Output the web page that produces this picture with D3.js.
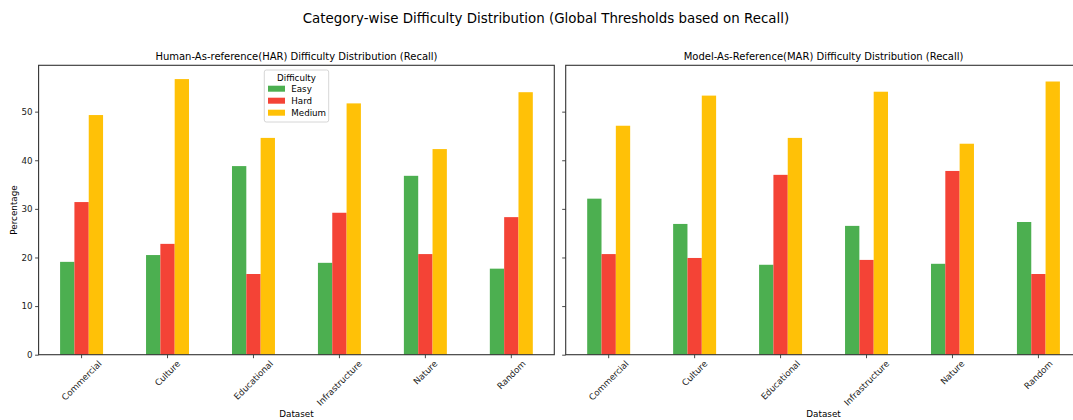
<!DOCTYPE html>
<html>
<head>
<meta charset="utf-8">
<script src="https://cdn.jsdelivr.net/npm/d3@7"></script>
<style>
body{margin:0;background:#fff;}
svg{display:block;font-family:"DejaVu Sans",sans-serif;}
</style>
</head>
<body>
<svg id="chart" width="1073" height="420"></svg>
<script>
const categories = ["Commercial","Culture","Educational","Infrastructure","Nature","Random"];
const difficulties = ["Easy","Hard","Medium"];
const colors = ["#4CAF50","#F44336","#FFC107"];
const yTicks = [0,10,20,30,40,50];
const harEasy   = [19.1, 20.5, 38.8, 18.9, 36.8, 17.7];
const harHard   = [31.4, 22.8, 16.6, 29.2, 20.7, 28.3];
const harMedium = [49.3, 56.7, 44.6, 51.7, 42.3, 54.0];
const marEasy   = [32.1, 26.9, 18.5, 26.5, 18.7, 27.3];
const marHard   = [20.7, 19.9, 37.0, 19.5, 37.8, 16.6];
const marMedium = [47.1, 53.3, 44.6, 54.1, 43.4, 56.2];
const mainTitle = "Category-wise Difficulty Distribution (Global Thresholds based on Recall)";
const panels = [
  {title:"Human-As-reference(HAR) Difficulty Distribution (Recall)", series:[harEasy,harHard,harMedium], left:38.6, labels:true, legend:true},
  {title:"Model-As-Reference(MAR) Difficulty Distribution (Recall)", series:[marEasy,marHard,marMedium], left:565.7, labels:false, legend:false}
];

const svg = d3.select("#chart");
const plotTop = 65.3, plotBottom = 354.7, pw = 515.7;
const allVals = panels.flatMap(p=>p.series.flat());
const yMax = d3.max(allVals)*1.05;
const y = d3.scaleLinear().domain([0,yMax]).range([plotBottom, plotTop]);
const axisColor = "#333";
const tickFont = 8.7;

svg.append("text").attr("x",546).attr("y",23).attr("text-anchor","middle")
  .attr("font-size",13.4).attr("fill","#000").text(mainTitle);

panels.forEach(p=>{
  const g = svg.append("g");
  const x = d3.scaleLinear().domain([-0.5, categories.length-0.5]).range([p.left, p.left+pw]);
  const bw = 0.5/3;
  p.series.forEach((vals,j)=>{
    g.selectAll(null).data(vals).enter().append("rect")
      .attr("x",(d,i)=>x(i - 0.25 + j*bw))
      .attr("width", x(bw)-x(0))
      .attr("y", d=>y(d))
      .attr("height", d=>y(0)-y(d))
      .attr("fill", colors[j]);
  });
  g.append("rect").attr("x",p.left).attr("y",plotTop).attr("width",pw).attr("height",plotBottom-plotTop)
    .attr("fill","none").attr("stroke",axisColor).attr("stroke-width",1.1);
  const ya = d3.axisLeft(y).tickValues(yTicks).tickSize(3.5).tickPadding(2.5)
    .tickFormat(p.labels ? d3.format("d") : ()=> "");
  const yg = g.append("g").attr("transform",`translate(${p.left},0)`).call(ya);
  yg.select(".domain").remove();
  yg.selectAll("line").attr("stroke",axisColor).attr("stroke-width",0.9);
  yg.selectAll("text").attr("font-size",tickFont).attr("fill","#222").attr("font-family","DejaVu Sans");
  const xb = d3.scaleBand().domain(categories).range([x(-0.5), x(categories.length-0.5)]);
  const xa = d3.axisBottom(xb).tickSize(3.5).tickPadding(2);
  const xg = g.append("g").attr("transform",`translate(0,${plotBottom})`).call(xa);
  xg.select(".domain").remove();
  xg.selectAll("line").attr("stroke",axisColor).attr("stroke-width",0.9);
  xg.selectAll("text").attr("font-size",tickFont).attr("fill","#222").attr("font-family","DejaVu Sans")
    .attr("text-anchor","middle").attr("dy","0.35em").attr("y",0)
    .each(function(){
      const L = this.getComputedTextLength();
      const h = tickFont*1.1;
      const half = (L+h)/(2*Math.SQRT2);
      d3.select(this).attr("transform",`translate(0,${4 + half}) rotate(-45)`);
    });
  g.append("text").attr("x",p.left+pw/2).attr("y",60).attr("text-anchor","middle")
    .attr("font-size",10).attr("fill","#000").text(p.title);
  g.append("text").attr("x",p.left+pw/2).attr("y",417).attr("text-anchor","middle")
    .attr("font-size",8.8).attr("fill","#000").text("Dataset");
  if(p.labels){
    g.append("text").attr("transform",`translate(17,${(plotTop+plotBottom)/2}) rotate(-90)`)
      .attr("text-anchor","middle").attr("font-size",8.8).attr("fill","#000").text("Percentage");
  }
  if(p.legend){
    const lg = g.append("g").attr("transform","translate(264.3,70)");
    lg.append("rect").attr("width",64.4).attr("height",52).attr("rx",2)
      .attr("fill","#fff").attr("fill-opacity",0.8).attr("stroke","#ccc").attr("stroke-width",0.8);
    lg.append("text").attr("x",32.2).attr("y",10.5).attr("text-anchor","middle")
      .attr("font-size",8.7).attr("fill","#000").text("Difficulty");
    difficulties.forEach((d,j)=>{
      lg.append("rect").attr("x",3.7).attr("y",15.7+j*12).attr("width",17).attr("height",6).attr("fill",colors[j]);
      lg.append("text").attr("x",27).attr("y",22.3+j*12).attr("font-size",8.7).attr("fill","#000").text(d);
    });
  }
});
</script>
</body>
</html>
